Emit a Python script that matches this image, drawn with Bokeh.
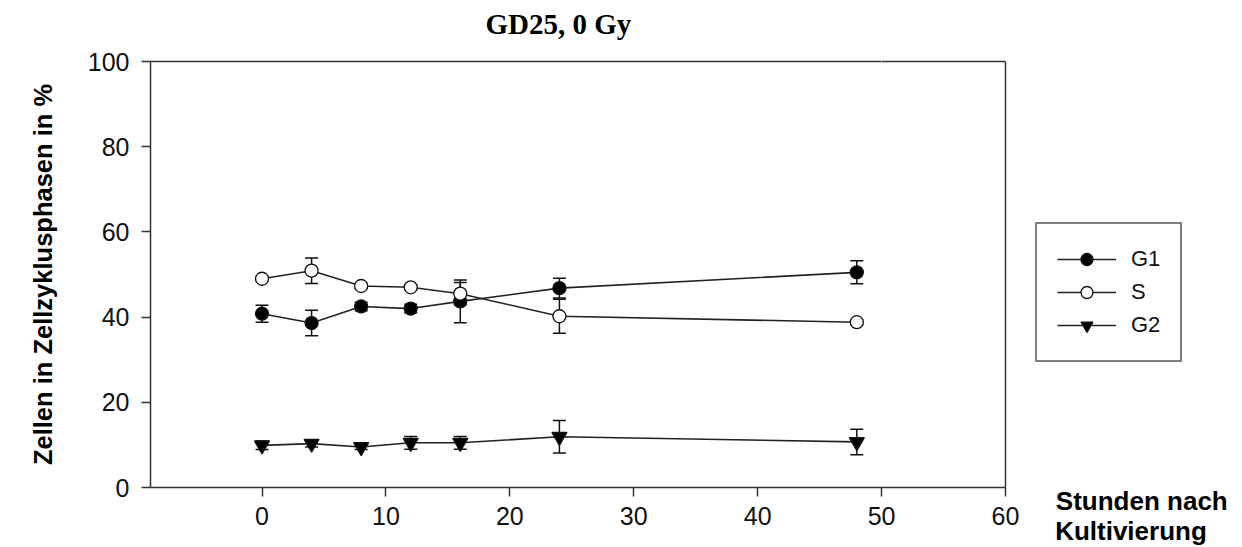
import numpy as np
from bokeh.plotting import figure
from bokeh.models import (Range1d, FixedTicker, ColumnDataSource, Whisker, TeeHead,
                          Legend, LegendItem, LinearAxis, Span)
from bokeh.embed import file_html
from bokeh.resources import INLINE

# ---- data ----
hours = [0, 4, 8, 12, 16, 24, 48]
g1 = [40.8, 38.6, 42.5, 42.0, 43.7, 46.8, 50.5]
g1_err = [2.0, 3.0, 1.0, 1.0, 5.0, 2.3, 2.7]
s_phase = [49.0, 50.9, 47.3, 47.0, 45.5, 40.2, 38.8]
s_err = [0.6, 3.0, 0.6, 0.6, 2.6, 4.0, 0.6]
g2 = [9.9, 10.3, 9.5, 10.5, 10.5, 11.9, 10.7]
g2_err = [1.0, 0.8, 0.6, 1.5, 1.5, 3.8, 3.0]

x_ticks = [0, 10, 20, 30, 40, 50, 60]
y_ticks = [0, 20, 40, 60, 80, 100]
x_min, x_max = -9, 60
y_min, y_max = 0, 100

title_text = "GD25, 0 Gy"
y_label = "Zellen in Zellzyklusphasen in %"
# second line padded with no-break spaces so both lines start at the same x
x_label = "Stunden nach\nKultivierung\u00a0\u00a0\u00a0"
x_label_pos = 71          # where the x-axis caption sits, right of the frame
spacer_pos = 50           # hidden tick on the top border that reserves room for the title

AXIS_COL = "#333333"
TXT = "#111111"

p = figure(frame_width=1070, frame_height=426, output_backend="svg", toolbar_location=None,
           x_range=Range1d(x_min, 77.35), y_range=Range1d(y_min, y_max),
           min_border_left=150, min_border_right=16, min_border_top=61, min_border_bottom=44)
p.background_fill_color = "white"
p.border_fill_color = "white"
p.outline_line_color = None
p.xgrid.visible = False
p.ygrid.visible = False

def style_axis(ax, ticks):
    ax.ticker = FixedTicker(ticks=ticks)
    ax.minor_tick_line_color = None
    ax.major_tick_in = 0
    ax.major_tick_out = 9
    ax.major_tick_line_width = 1.5
    ax.major_tick_line_color = AXIS_COL
    ax.axis_line_width = 1.5
    ax.axis_line_color = AXIS_COL
    ax.major_label_text_font = "Liberation Sans"
    ax.major_label_text_font_size = "25px"
    ax.major_label_text_color = TXT

style_axis(p.xaxis[0], x_ticks)
style_axis(p.yaxis[0], y_ticks)
p.xaxis[0].bounds = (x_min, x_max)
p.xaxis[0].major_label_standoff = 10
p.yaxis[0].major_label_standoff = 12
p.yaxis[0].axis_label = y_label
p.yaxis[0].axis_label_text_font = "Liberation Sans"
p.yaxis[0].axis_label_text_font_style = "bold"
p.yaxis[0].axis_label_text_font_size = "25.5px"
p.yaxis[0].axis_label_text_color = "black"
p.yaxis[0].axis_label_standoff = 28

# top border of the frame (stops at x = 60); one white tick reserves space for the title
top_ax = LinearAxis(ticker=FixedTicker(ticks=[spacer_pos]), bounds=(x_min, x_max),
                    major_label_overrides={spacer_pos: ""},
                    axis_line_width=1.5, axis_line_color=AXIS_COL,
                    major_tick_out=22, major_tick_in=0, minor_tick_line_color=None,
                    major_tick_line_color="white", major_tick_line_width=1,
                    major_label_standoff=0, major_label_text_font_size="0px")
p.add_layout(top_ax, "above")
# right border of the frame at x = 60
p.add_layout(Span(location=x_max, dimension="height", line_color=AXIS_COL, line_width=1.5))

# x-axis caption placed to the right, as a second (invisible) bottom axis
cap_ax = LinearAxis(ticker=FixedTicker(ticks=[x_label_pos]),
                    major_label_overrides={x_label_pos: x_label},
                    axis_line_color=None, major_tick_line_color=None,
                    minor_tick_line_color=None, major_tick_out=0, major_tick_in=0,
                    major_label_standoff=-42,
                    major_label_text_font="Liberation Sans",
                    major_label_text_font_style="bold",
                    major_label_text_font_size="26px",
                    major_label_text_line_height=1.0,
                    major_label_text_color="black")
p.add_layout(cap_ax, "below")

# title
p.title.text = title_text
p.title.text_font = "Liberation Serif"
p.title.text_font_style = "bold"
p.title.text_font_size = "29px"
p.title.text_color = "black"
p.title.align = "left"
p.title.offset = 335
p.title.standoff = 0

series = [
    ("G1", g1, g1_err, "circle", "black", 13),
    ("S", s_phase, s_err, "circle", "white", 13),
    ("G2", g2, g2_err, "inverted_triangle", "black", 15),
]

items = []
for name, vals, errs, marker, fill, size in series:
    v = np.array(vals)
    e = np.array(errs)
    src = ColumnDataSource(dict(x=hours, y=vals, lo=list(v - e), hi=list(v + e)))
    lr = p.line("x", "y", source=src, line_color="#222222", line_width=1.6)
    wk = Whisker(base="x", upper="hi", lower="lo", source=src, level="underlay",
                 line_color=TXT, line_width=1.5,
                 upper_head=TeeHead(size=13, line_color=TXT, line_width=1.5),
                 lower_head=TeeHead(size=13, line_color=TXT, line_width=1.5))
    p.add_layout(wk)
    sr = p.scatter("x", "y", source=src, marker=marker, size=size,
                   fill_color=fill, line_color=TXT, line_width=1.3)
    items.append(LegendItem(label=name, renderers=[lr, sr]))

legend = Legend(items=items, location=(885, 125), orientation="vertical",
                border_line_color="black", border_line_width=2,
                background_fill_color="white", background_fill_alpha=1.0,
                label_text_font="Liberation Sans", label_text_font_size="22px",
                label_text_color=TXT, label_standoff=15,
                glyph_width=59, glyph_height=30, spacing=3, padding=20, margin=0)
p.add_layout(legend, "center")

open("out.html", "w").write(file_html(p, INLINE))
